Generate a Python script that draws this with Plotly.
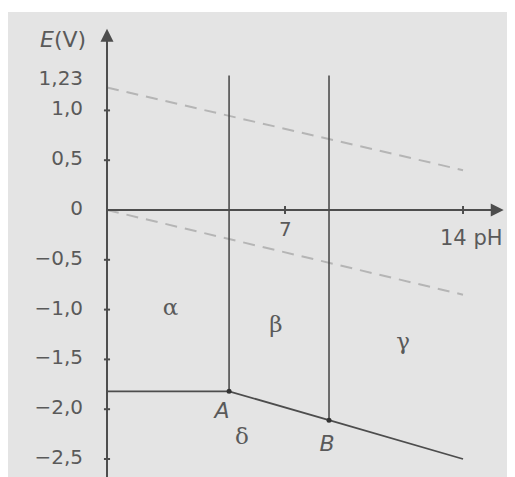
import plotly.graph_objects as go

# ---- data ----
y_tick_vals = [1.23, 1.0, 0.5, 0.0, -0.5, -1.0, -1.5, -2.0, -2.5]
y_tick_text = ["1,23", "1,0", "0,5", "0", "\u22120,5", "\u22121,0", "\u22121,5", "\u22122,0", "\u22122,5"]
y_tick_marks = [1.0, 0.5, -0.5, -1.0, -1.5, -2.0, -2.5]
x_tick_vals = [7, 14]

# boundaries
pH_A, E_A = 4.8, -1.82
pH_B, E_B = 8.73, -2.11
pH_end, E_end = 14.0, -2.50
E_top = 1.35
E_left = -1.82

# water stability lines (dashed)
water_pH = [0, 14]
water_upper = [1.23, 0.40]
water_lower = [0.0, -0.85]

regions = ["\u03b1", "\u03b2", "\u03b3", "\u03b4"]
region_pH = [2.5, 6.64, 11.64, 5.31]
region_E = [-1.0, -1.17, -1.34, -2.29]

point_names = ["A", "B"]
point_label_pH = [4.52, 8.65]
point_label_E = [-2.03, -2.36]

xr = [-3.893, 16.358]
yr = [-2.761, 1.988]

dark = "#4d4d4d"
dash_col = "#b5b5b5"
txt = "#5a5a5a"
font_sans = "DejaVu Sans"

fig = go.Figure()

# dashed water lines
for ys in (water_upper, water_lower):
    fig.add_trace(go.Scatter(x=water_pH, y=ys, mode="lines",
                             line=dict(color=dash_col, width=2, dash="12px,8px"),
                             hoverinfo="skip", showlegend=False))

# axes lines
fig.add_trace(go.Scatter(x=[0, 0], y=[yr[0], 1.72], mode="lines",
                         line=dict(color=dark, width=2), showlegend=False, hoverinfo="skip"))
fig.add_trace(go.Scatter(x=[0, 15.3], y=[0, 0], mode="lines",
                         line=dict(color=dark, width=2), showlegend=False, hoverinfo="skip"))

# tick marks
for v in y_tick_marks:
    fig.add_trace(go.Scatter(x=[-0.12, 0.12], y=[v, v], mode="lines",
                             line=dict(color=dark, width=2), showlegend=False, hoverinfo="skip"))
for v in x_tick_vals:
    fig.add_trace(go.Scatter(x=[v, v], y=[-0.04, 0.04], mode="lines",
                             line=dict(color=dark, width=2), showlegend=False, hoverinfo="skip"))

# phase boundaries
fig.add_trace(go.Scatter(x=[pH_A, pH_A], y=[E_top, E_A], mode="lines",
                         line=dict(color=dark, width=1.6), showlegend=False, hoverinfo="skip"))
fig.add_trace(go.Scatter(x=[pH_B, pH_B], y=[E_top, E_B], mode="lines",
                         line=dict(color=dark, width=1.6), showlegend=False, hoverinfo="skip"))
fig.add_trace(go.Scatter(x=[0, pH_A, pH_B, pH_end], y=[E_left, E_A, E_B, E_end], mode="lines",
                         line=dict(color=dark, width=1.8), showlegend=False, hoverinfo="skip"))
fig.add_trace(go.Scatter(x=[pH_A, pH_B], y=[E_A, E_B], mode="markers",
                         marker=dict(color="#333333", size=5), showlegend=False, hoverinfo="skip"))

# y tick labels
fig.add_trace(go.Scatter(x=[-0.94] * len(y_tick_vals),
                         y=[v + (0.075 if v == 1.23 else 0) for v in y_tick_vals],
                         mode="text", text=y_tick_text, textposition="middle left",
                         textfont=dict(family=font_sans, size=20, color=txt),
                         showlegend=False, hoverinfo="skip"))

# region labels
fig.add_trace(go.Scatter(x=region_pH, y=region_E, mode="text", text=regions,
                         textfont=dict(family="DejaVu Serif", size=23, color=txt),
                         showlegend=False, hoverinfo="skip"))
fig.add_trace(go.Scatter(x=point_label_pH, y=point_label_E, mode="text",
                         text=["<i>A</i>", "<i>B</i>"],
                         textfont=dict(family=font_sans, size=22, color=txt),
                         showlegend=False, hoverinfo="skip"))

# arrows
fig.add_annotation(x=0, y=1.82, ax=0, ay=1.6, xref="x", yref="y", axref="x", ayref="y",
                   showarrow=True, arrowhead=2, arrowsize=1.3, arrowwidth=2, arrowcolor=dark, text="")
fig.add_annotation(x=15.6, y=0, ax=15.0, ay=0, xref="x", yref="y", axref="x", ayref="y",
                   showarrow=True, arrowhead=2, arrowsize=1.3, arrowwidth=2, arrowcolor=dark, text="")

# axis titles and x tick labels
fig.add_annotation(x=-0.75, y=1.71, text="<i>E</i>(V)", showarrow=False, xanchor="right",
                   font=dict(family=font_sans, size=22, color=txt))
fig.add_annotation(x=7, y=-0.19, text="7", showarrow=False,
                   font=dict(family=font_sans, size=20, color=txt))
fig.add_annotation(x=14.35, y=-0.28, text="14 pH", showarrow=False,
                   font=dict(family=font_sans, size=21, color=txt))

fig.update_layout(
    width=515, height=477,
    margin=dict(l=0, r=0, t=4, b=0),
    paper_bgcolor="white", plot_bgcolor="#e4e4e4",
    xaxis=dict(range=xr, visible=False, fixedrange=True),
    yaxis=dict(range=yr, visible=False, fixedrange=True),
    showlegend=False,
)

fig.write_html("out.html")
